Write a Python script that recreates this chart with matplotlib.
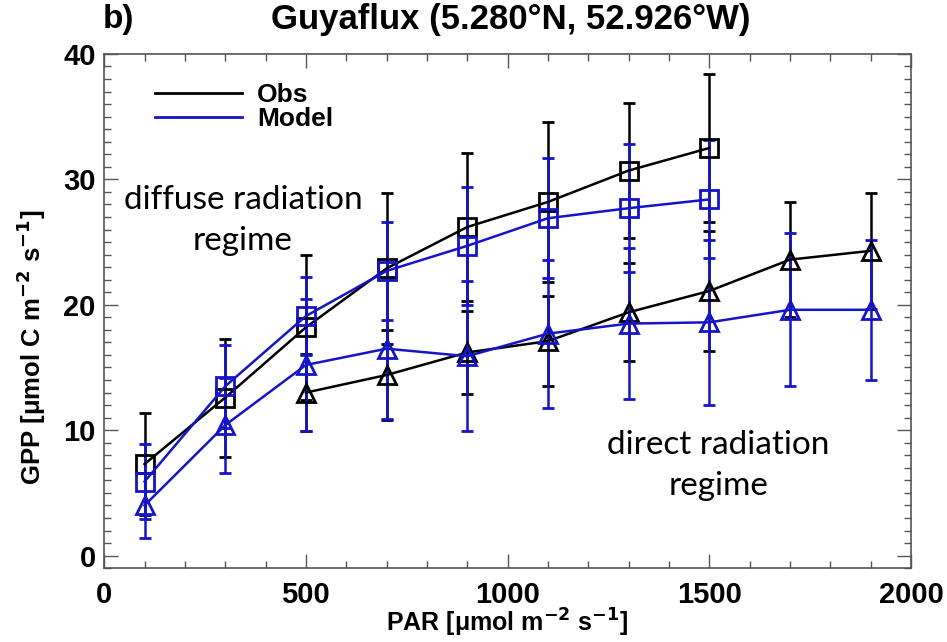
import numpy as np
import matplotlib
matplotlib.use("Agg")
import matplotlib.pyplot as plt
from matplotlib.ticker import MultipleLocator
from matplotlib.lines import Line2D

# binned GPP vs PAR, Guyaflux site
# squares = diffuse radiation regime, triangles = direct radiation regime
par_sq = [100, 300, 500, 700, 900, 1100, 1300, 1500]
obs_sq = [7.3, 12.6, 18.2, 22.9, 26.2, 28.2, 30.7, 32.5]
obs_sq_sd = [4.1, 4.7, 5.8, 6.0, 5.9, 6.4, 5.4, 5.9]
mod_sq = [5.9, 13.5, 19.1, 22.7, 24.7, 26.9, 27.7, 28.4]
mod_sq_sd = [3.0, 3.3, 3.1, 3.9, 4.7, 4.8, 5.1, 4.7]

par_tri_obs = [500, 700, 900, 1100, 1300, 1500, 1700, 1900]
obs_tri = [13.0, 14.4, 16.2, 17.1, 19.4, 21.1, 23.6, 24.3]
obs_tri_sd = [3.1, 3.6, 3.3, 3.6, 3.9, 4.8, 4.6, 4.6]

par_tri_mod = [100, 300, 500, 700, 900, 1100, 1300, 1500, 1700, 1900]
mod_tri = [4.0, 10.4, 15.2, 16.5, 15.9, 17.7, 18.5, 18.6, 19.6, 19.6]
mod_tri_sd = [2.6, 3.8, 5.3, 5.6, 6.0, 5.9, 6.0, 6.6, 6.1, 5.6]

BLACK = "black"
BLUE = "#1414c8"
AXCOL = "#555555"

plt.rcParams.update({
    "font.family": ["Liberation Sans Narrow", "Liberation Sans", "DejaVu Sans"],
    "font.weight": "bold",
    "mathtext.fontset": "custom",
    "mathtext.rm": "Liberation Sans Narrow:bold",
    "mathtext.it": "Liberation Sans Narrow:bold",
    "mathtext.bf": "Liberation Sans Narrow:bold",
})

fig = plt.figure(figsize=(9.47, 6.42), dpi=100)
ax = fig.add_axes([0.110, 0.115, 0.852, 0.801])

eb = dict(linewidth=1.8, elinewidth=1.8, capsize=4, capthick=1.8,
          markersize=13, markerfacecolor="none", markeredgewidth=2.0)

ax.errorbar(par_sq, obs_sq, yerr=obs_sq_sd, color=BLACK, marker="s", **eb)
ax.errorbar(par_tri_obs, obs_tri, yerr=obs_tri_sd, color=BLACK, marker="^", **eb)
ax.errorbar(par_sq, mod_sq, yerr=mod_sq_sd, color=BLUE, marker="s", **eb)
ax.errorbar(par_tri_mod, mod_tri, yerr=mod_tri_sd, color=BLUE, marker="^", **eb)

ax.set_xlim(0, 2000)
ax.set_ylim(-1, 40)
ax.xaxis.set_major_locator(MultipleLocator(500))
ax.xaxis.set_minor_locator(MultipleLocator(100))
ax.yaxis.set_major_locator(MultipleLocator(10))
ax.yaxis.set_minor_locator(MultipleLocator(1))
ax.tick_params(which="both", direction="in", top=True, right=True,
               color=AXCOL, width=1.0)
ax.tick_params(which="major", length=10, labelsize=21, pad=9)
ax.tick_params(axis="y", which="major", pad=6)
ax.tick_params(which="minor", length=5)
for s in ax.spines.values():
    s.set_color(AXCOL)
    s.set_linewidth(1.2)

ax.set_xlabel("PAR [μmol m$^{-2}$ s$^{-1}$]", fontsize=18, fontweight="bold", labelpad=-1)
ax.set_ylabel("GPP [μmol C m$^{-2}$ s$^{-1}$]", fontsize=18.5, fontweight="bold")
ax.yaxis.set_label_coords(-0.07, 0.43)

fig.text(0.108, 0.970, "b)", fontsize=24, fontweight="bold", va="center", ha="left")
fig.text(0.539, 0.970, "Guyaflux (5.280°N, 52.926°W)", fontsize=25,
         fontweight="bold", va="center", ha="center")

handles = [Line2D([], [], color=BLACK, lw=2.0), Line2D([], [], color=BLUE, lw=2.0)]
ax.legend(handles, ["Obs", "Model"], loc="upper left", frameon=False,
          fontsize=19, handlelength=3.3, handletextpad=0.55, labelspacing=0.0,
          bbox_to_anchor=(0.034, 0.99))

ax.text(344, 26.7, "diffuse radiation\nregime", ha="center", va="center",
        fontsize=24, fontweight="normal", family=["Lato", "DejaVu Sans"],
        linespacing=1.45)
ax.text(1522, 7.2, "direct radiation\nregime", ha="center", va="center",
        fontsize=24, fontweight="normal", family=["Lato", "DejaVu Sans"],
        linespacing=1.45)

fig.savefig("out.png", dpi=100)
